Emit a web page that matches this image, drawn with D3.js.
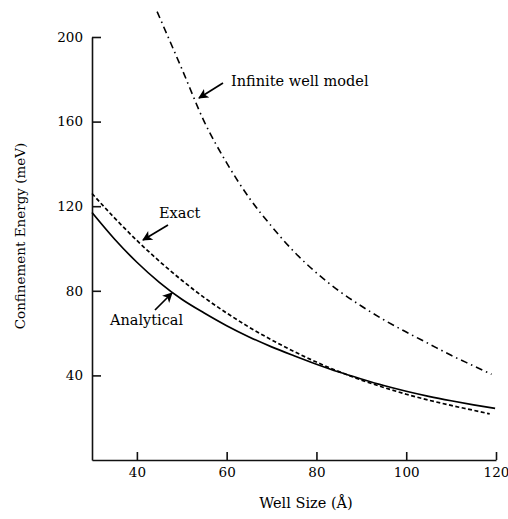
<!DOCTYPE html>
<head>
<meta http-equiv="Content-type" content="text/html;charset=UTF-8">
</head>
<style>
body { margin: 0; background: #fff; }
svg { display: block; }
.axis text { font-family: "DejaVu Serif", serif; font-size: 13.5px; fill: #000; }
.axis path, .axis line { stroke: #111; stroke-width: 1.6px; }
.lbl { font-family: "DejaVu Serif", serif; font-size: 14.5px; fill: #000; }
</style>
<svg width="508" height="519"></svg>
<script src="https://d3js.org/d3.v7.min.js"></script>
<script>

// Well size (Angstrom) and confinement energy (meV)
var analyticalSize = [30, 35, 40, 45, 50, 55, 60, 65, 70, 75, 80, 85, 90, 95, 100, 105, 110, 115, 119.8];
var analyticalE    = [117, 104.5, 93.5, 84, 76, 69.5, 63.5, 58.2, 53.5, 49.3, 45.3, 41.6, 38.3, 35.2, 32.5, 30.1, 28, 26.1, 24.4];

var exactSize = [30, 35, 40, 45, 50, 55, 60, 65, 70, 75, 80, 85, 90, 95, 100, 105, 110, 115, 118.6];
var exactE    = [126, 114.5, 103.8, 94, 85, 76.8, 69.5, 62.8, 56.8, 51.3, 46.3, 41.8, 37.8, 34.3, 31.1, 28.3, 25.8, 23.5, 21.8];

var infiniteSize = [44.5, 50, 55, 60, 65, 70, 75, 80, 85, 90, 95, 100, 105, 110, 115, 119];
var infiniteE    = [212, 185, 160, 140.5, 124, 110.5, 98.5, 88.5, 80, 72.8, 66.3, 60.5, 55, 49.5, 44.5, 40.5];

var xTicks = [40, 60, 80, 100, 120];
var yTicks = [40, 80, 120, 160, 200];

var svg = d3.select("svg");

var x = d3.scaleLinear().domain([30, 120]).range([92, 496]);
var y = d3.scaleLinear().domain([0, 200]).range([460, 37]);

var defs = svg.append("defs");
defs.append("marker")
    .attr("id", "arrow")
    .attr("viewBox", "0 0 10 10")
    .attr("refX", 9).attr("refY", 5)
    .attr("markerWidth", 11).attr("markerHeight", 10)
    .attr("markerUnits", "userSpaceOnUse")
    .attr("orient", "auto")
  .append("path")
    .attr("d", "M0,0L10,5L0,10L2.5,5Z")
    .attr("fill", "#000");

// axes, ticks pointing inward
svg.append("g")
    .attr("class", "axis")
    .attr("transform", "translate(0,460)")
    .call(d3.axisBottom(x).tickValues(xTicks).tickSizeInner(-8).tickSizeOuter(0).tickPadding(7));

svg.append("g")
    .attr("class", "axis")
    .attr("transform", "translate(92,0)")
    .call(d3.axisLeft(y).tickValues(yTicks).tickSizeInner(-9).tickSizeOuter(0).tickPadding(9));

function series(xs, ys) {
  return xs.map(function(d, i) { return [d, ys[i]]; });
}

var line = d3.line()
    .x(function(d) { return x(d[0]); })
    .y(function(d) { return y(d[1]); })
    .curve(d3.curveMonotoneX);

svg.append("path")
    .datum(series(analyticalSize, analyticalE))
    .attr("fill", "none").attr("stroke", "#000").attr("stroke-width", 1.7)
    .attr("d", line);

svg.append("path")
    .datum(series(exactSize, exactE))
    .attr("fill", "none").attr("stroke", "#000").attr("stroke-width", 1.7)
    .attr("stroke-dasharray", "4,2.5")
    .attr("d", line);

svg.append("path")
    .datum(series(infiniteSize, infiniteE))
    .attr("fill", "none").attr("stroke", "#000").attr("stroke-width", 1.6)
    .attr("stroke-dasharray", "7,4,1.5,4")
    .attr("d", line);

// annotations
svg.append("text").attr("class", "lbl").attr("x", 231).attr("y", 86).text("Infinite well model");
svg.append("line").attr("x1", 223).attr("y1", 83).attr("x2", 199).attr("y2", 98)
    .attr("stroke", "#000").attr("stroke-width", 1.7).attr("marker-end", "url(#arrow)");

svg.append("text").attr("class", "lbl").attr("x", 159).attr("y", 218).text("Exact");
svg.append("line").attr("x1", 168).attr("y1", 225).attr("x2", 143).attr("y2", 240)
    .attr("stroke", "#000").attr("stroke-width", 1.7).attr("marker-end", "url(#arrow)");

svg.append("text").attr("class", "lbl").attr("x", 110).attr("y", 325).text("Analytical");
svg.append("line").attr("x1", 155).attr("y1", 310).attr("x2", 172).attr("y2", 293)
    .attr("stroke", "#000").attr("stroke-width", 1.7).attr("marker-end", "url(#arrow)");

// axis titles
svg.append("text").attr("class", "lbl")
    .attr("x", 306).attr("y", 508)
    .attr("text-anchor", "middle")
    .text("Well Size (Å)");

svg.append("text").attr("class", "lbl")
    .style("font-size", "13.5px")
    .attr("transform", "translate(25,236) rotate(-90)")
    .attr("text-anchor", "middle")
    .text("Confinement Energy (meV)");

</script>
